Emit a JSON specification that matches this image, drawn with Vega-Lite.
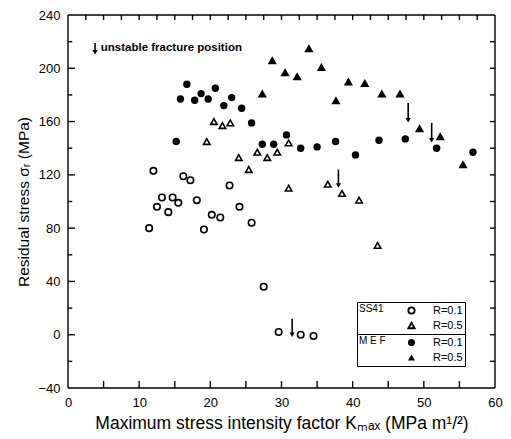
{
  "$schema": "https://vega.github.io/schema/vega-lite/v6.json",
  "width": 427,
  "height": 373,
  "autosize": {"type": "none"},
  "padding": {"left": 68, "top": 15, "right": 16, "bottom": 51},
  "background": "white",
  "config": {
    "view": {"stroke": null},
    "font": "Liberation Sans",
    "axis": {
      "grid": false,
      "domain": false,
      "ticks": false,
      "labelColor": "black",
      "titleColor": "black",
      "labelFont": "Liberation Sans",
      "titleFont": "Liberation Sans",
      "titleFontWeight": "normal",
      "labelFlush": false,
      "labelOverlap": false
    },
    "legend": {
      "labelFont": "Liberation Sans",
      "titleFont": "Liberation Sans",
      "labelColor": "black",
      "titleColor": "black"
    }
  },
  "datasets": {
    "segs": [
      {"x": 0, "x2": 60, "y": -40, "y2": -40},
      {"x": 0, "x2": 60, "y": 240, "y2": 240},
      {"x": 0, "x2": 0, "y": -40, "y2": 240},
      {"x": 60, "x2": 60, "y": -40, "y2": 240},
      {"x": 5, "x2": 5, "y": -40, "y2": -34.8},
      {"x": 10, "x2": 10, "y": -40, "y2": -34.8},
      {"x": 15, "x2": 15, "y": -40, "y2": -34.8},
      {"x": 20, "x2": 20, "y": -40, "y2": -34.8},
      {"x": 25, "x2": 25, "y": -40, "y2": -34.8},
      {"x": 30, "x2": 30, "y": -40, "y2": -34.8},
      {"x": 35, "x2": 35, "y": -40, "y2": -34.8},
      {"x": 40, "x2": 40, "y": -40, "y2": -34.8},
      {"x": 45, "x2": 45, "y": -40, "y2": -34.8},
      {"x": 50, "x2": 50, "y": -40, "y2": -34.8},
      {"x": 55, "x2": 55, "y": -40, "y2": -34.8},
      {"x": 2.5, "x2": 2.5, "y": 240, "y2": 236.3},
      {"x": 5, "x2": 5, "y": 240, "y2": 236.3},
      {"x": 7.5, "x2": 7.5, "y": 240, "y2": 236.3},
      {"x": 10, "x2": 10, "y": 240, "y2": 236.3},
      {"x": 12.5, "x2": 12.5, "y": 240, "y2": 236.3},
      {"x": 15, "x2": 15, "y": 240, "y2": 236.3},
      {"x": 17.5, "x2": 17.5, "y": 240, "y2": 236.3},
      {"x": 20, "x2": 20, "y": 240, "y2": 236.3},
      {"x": 22.5, "x2": 22.5, "y": 240, "y2": 236.3},
      {"x": 25, "x2": 25, "y": 240, "y2": 236.3},
      {"x": 27.5, "x2": 27.5, "y": 240, "y2": 236.3},
      {"x": 30, "x2": 30, "y": 240, "y2": 236.3},
      {"x": 32.5, "x2": 32.5, "y": 240, "y2": 236.3},
      {"x": 35, "x2": 35, "y": 240, "y2": 236.3},
      {"x": 37.5, "x2": 37.5, "y": 240, "y2": 236.3},
      {"x": 40, "x2": 40, "y": 240, "y2": 236.3},
      {"x": 42.5, "x2": 42.5, "y": 240, "y2": 236.3},
      {"x": 45, "x2": 45, "y": 240, "y2": 236.3},
      {"x": 47.5, "x2": 47.5, "y": 240, "y2": 236.3},
      {"x": 50, "x2": 50, "y": 240, "y2": 236.3},
      {"x": 52.5, "x2": 52.5, "y": 240, "y2": 236.3},
      {"x": 55, "x2": 55, "y": 240, "y2": 236.3},
      {"x": 57.5, "x2": 57.5, "y": 240, "y2": 236.3},
      {"x": 0, "x2": 0.98, "y": 0, "y2": 0},
      {"x": 0, "x2": 0.98, "y": 40, "y2": 40},
      {"x": 0, "x2": 0.98, "y": 80, "y2": 80},
      {"x": 0, "x2": 0.98, "y": 120, "y2": 120},
      {"x": 0, "x2": 0.98, "y": 160, "y2": 160},
      {"x": 0, "x2": 0.98, "y": 200, "y2": 200},
      {"x": 0, "x2": 0.6, "y": -20, "y2": -20},
      {"x": 0, "x2": 0.6, "y": 20, "y2": 20},
      {"x": 0, "x2": 0.6, "y": 60, "y2": 60},
      {"x": 0, "x2": 0.6, "y": 100, "y2": 100},
      {"x": 0, "x2": 0.6, "y": 140, "y2": 140},
      {"x": 0, "x2": 0.6, "y": 180, "y2": 180},
      {"x": 0, "x2": 0.6, "y": 220, "y2": 220},
      {"x": 59.3, "x2": 60, "y": -20, "y2": -20},
      {"x": 59.3, "x2": 60, "y": 0, "y2": 0},
      {"x": 59.3, "x2": 60, "y": 20, "y2": 20},
      {"x": 59.3, "x2": 60, "y": 40, "y2": 40},
      {"x": 59.3, "x2": 60, "y": 60, "y2": 60},
      {"x": 59.3, "x2": 60, "y": 80, "y2": 80},
      {"x": 59.3, "x2": 60, "y": 100, "y2": 100},
      {"x": 59.3, "x2": 60, "y": 120, "y2": 120},
      {"x": 59.3, "x2": 60, "y": 140, "y2": 140},
      {"x": 59.3, "x2": 60, "y": 160, "y2": 160},
      {"x": 59.3, "x2": 60, "y": 180, "y2": 180},
      {"x": 59.3, "x2": 60, "y": 200, "y2": 200},
      {"x": 59.3, "x2": 60, "y": 220, "y2": 220}
    ],
    "points": [
      {"m": "SS41", "R": "R=0.1", "K": 11.4, "s": 80},
      {"m": "SS41", "R": "R=0.1", "K": 12.0, "s": 123},
      {"m": "SS41", "R": "R=0.1", "K": 12.5, "s": 96},
      {"m": "SS41", "R": "R=0.1", "K": 13.2, "s": 103},
      {"m": "SS41", "R": "R=0.1", "K": 14.1, "s": 92},
      {"m": "SS41", "R": "R=0.1", "K": 14.7, "s": 103},
      {"m": "SS41", "R": "R=0.1", "K": 15.5, "s": 99},
      {"m": "SS41", "R": "R=0.1", "K": 16.2, "s": 119},
      {"m": "SS41", "R": "R=0.1", "K": 17.2, "s": 116},
      {"m": "SS41", "R": "R=0.1", "K": 18.1, "s": 101},
      {"m": "SS41", "R": "R=0.1", "K": 19.1, "s": 79},
      {"m": "SS41", "R": "R=0.1", "K": 20.2, "s": 90},
      {"m": "SS41", "R": "R=0.1", "K": 21.4, "s": 88},
      {"m": "SS41", "R": "R=0.1", "K": 22.7, "s": 112},
      {"m": "SS41", "R": "R=0.1", "K": 24.1, "s": 96},
      {"m": "SS41", "R": "R=0.1", "K": 25.8, "s": 84},
      {"m": "SS41", "R": "R=0.1", "K": 27.5, "s": 36},
      {"m": "SS41", "R": "R=0.1", "K": 29.6, "s": 2},
      {"m": "SS41", "R": "R=0.1", "K": 32.7, "s": 0},
      {"m": "SS41", "R": "R=0.1", "K": 34.5, "s": -1},
      {"m": "SS41", "R": "R=0.5", "K": 19.5, "s": 145},
      {"m": "SS41", "R": "R=0.5", "K": 20.5, "s": 160},
      {"m": "SS41", "R": "R=0.5", "K": 21.7, "s": 157},
      {"m": "SS41", "R": "R=0.5", "K": 22.8, "s": 159},
      {"m": "SS41", "R": "R=0.5", "K": 24.0, "s": 133},
      {"m": "SS41", "R": "R=0.5", "K": 25.4, "s": 124},
      {"m": "SS41", "R": "R=0.5", "K": 26.6, "s": 137},
      {"m": "SS41", "R": "R=0.5", "K": 28.0, "s": 133},
      {"m": "SS41", "R": "R=0.5", "K": 29.4, "s": 137},
      {"m": "SS41", "R": "R=0.5", "K": 31.0, "s": 144},
      {"m": "SS41", "R": "R=0.5", "K": 31.0, "s": 110},
      {"m": "SS41", "R": "R=0.5", "K": 36.5, "s": 113},
      {"m": "SS41", "R": "R=0.5", "K": 38.5, "s": 106},
      {"m": "SS41", "R": "R=0.5", "K": 40.9, "s": 101},
      {"m": "SS41", "R": "R=0.5", "K": 43.5, "s": 67},
      {"m": "MEF", "R": "R=0.1", "K": 15.2, "s": 145},
      {"m": "MEF", "R": "R=0.1", "K": 15.8, "s": 177},
      {"m": "MEF", "R": "R=0.1", "K": 16.7, "s": 188},
      {"m": "MEF", "R": "R=0.1", "K": 17.8, "s": 176},
      {"m": "MEF", "R": "R=0.1", "K": 18.7, "s": 181},
      {"m": "MEF", "R": "R=0.1", "K": 19.7, "s": 177},
      {"m": "MEF", "R": "R=0.1", "K": 20.7, "s": 185},
      {"m": "MEF", "R": "R=0.1", "K": 21.9, "s": 172},
      {"m": "MEF", "R": "R=0.1", "K": 23.0, "s": 178},
      {"m": "MEF", "R": "R=0.1", "K": 24.4, "s": 170},
      {"m": "MEF", "R": "R=0.1", "K": 25.8, "s": 159},
      {"m": "MEF", "R": "R=0.1", "K": 27.3, "s": 143},
      {"m": "MEF", "R": "R=0.1", "K": 28.9, "s": 143},
      {"m": "MEF", "R": "R=0.1", "K": 30.7, "s": 150},
      {"m": "MEF", "R": "R=0.1", "K": 32.7, "s": 140},
      {"m": "MEF", "R": "R=0.1", "K": 35.0, "s": 141},
      {"m": "MEF", "R": "R=0.1", "K": 37.6, "s": 145},
      {"m": "MEF", "R": "R=0.1", "K": 40.4, "s": 135},
      {"m": "MEF", "R": "R=0.1", "K": 43.7, "s": 146},
      {"m": "MEF", "R": "R=0.1", "K": 47.4, "s": 147},
      {"m": "MEF", "R": "R=0.1", "K": 51.8, "s": 140},
      {"m": "MEF", "R": "R=0.1", "K": 56.9, "s": 137},
      {"m": "MEF", "R": "R=0.5", "K": 27.3, "s": 181},
      {"m": "MEF", "R": "R=0.5", "K": 28.7, "s": 206},
      {"m": "MEF", "R": "R=0.5", "K": 30.5, "s": 197},
      {"m": "MEF", "R": "R=0.5", "K": 32.2, "s": 194},
      {"m": "MEF", "R": "R=0.5", "K": 33.85, "s": 215},
      {"m": "MEF", "R": "R=0.5", "K": 35.6, "s": 201},
      {"m": "MEF", "R": "R=0.5", "K": 37.65, "s": 176},
      {"m": "MEF", "R": "R=0.5", "K": 39.4, "s": 190},
      {"m": "MEF", "R": "R=0.5", "K": 41.7, "s": 189},
      {"m": "MEF", "R": "R=0.5", "K": 44.1, "s": 181},
      {"m": "MEF", "R": "R=0.5", "K": 46.65, "s": 181},
      {"m": "MEF", "R": "R=0.5", "K": 49.4, "s": 155},
      {"m": "MEF", "R": "R=0.5", "K": 52.3, "s": 149},
      {"m": "MEF", "R": "R=0.5", "K": 55.5, "s": 128}
    ],
    "arrows": [
      {"K": 3.8, "top": 219, "bottom": 212},
      {"K": 31.5, "top": 12, "bottom": 0},
      {"K": 38.0, "top": 124, "bottom": 112},
      {"K": 47.8, "top": 174, "bottom": 161},
      {"K": 51.1, "top": 159, "bottom": 146}
    ],
    "notes": [
      {"K": 4.6, "s": 215, "label": "unstable fracture position"}
    ]
  },
  "layer": [
    {
      "data": {"name": "points"},
      "transform": [{"filter": "datum.m === 'SS41'"}],
      "mark": {"type": "point", "filled": false, "color": "black", "strokeWidth": 1.6, "opacity": 1},
      "encoding": {
        "x": {"field": "K", "type": "quantitative", "scale": {"domain": [0, 60], "nice": false, "zero": false},
          "axis": {
            "orient": "bottom",
            "values": [0, 5, 10, 15, 20, 25, 30, 35, 40, 45, 50, 55, 60],
            "labelPadding": 8,
            "labelFontSize": 13,
            "title": "Maximum stress intensity factor Kₘₐₓ (MPa m¹/²)",
            "titleFontSize": 17.5,
            "titlePadding": 5
          }
        },
        "y": {"field": "s", "type": "quantitative", "scale": {"domain": [-40, 240], "nice": false, "zero": false},
          "axis": {
            "orient": "left",
            "values": [-40, 0, 40, 80, 120, 160, 200, 240],
            "labelPadding": 8,
            "labelFontSize": 13,
            "title": "Residual stress σᵣ (MPa)",
            "titleFontSize": 15.5,
            "titlePadding": 6
          }
        },
        "shape": {
          "field": "R", "type": "nominal",
          "scale": {"domain": ["R=0.1", "R=0.5"], "range": ["circle", "triangle-up"]},
          "legend": {
            "title": "SS41",
            "orient": "none",
            "legendX": 289,
            "legendY": 287,
            "titleOrient": "left",
            "titleAngle": 0,
            "titleBaseline": "top",
            "titleAnchor": "start",
            "titleFontSize": 10,
            "titleFontWeight": "normal",
            "titlePadding": 22,
            "labelFontSize": 11,
            "labelOffset": 16,
            "symbolSize": 40,
            "symbolStrokeWidth": 1.8,
            "symbolStrokeColor": "black",
            "clipHeight": 13,
            "rowPadding": 2,
            "padding": 2,
            "strokeColor": "black"
          }
        },
        "size": {"value": 42}
      }
    },
    {
      "data": {"name": "points"},
      "transform": [{"filter": "datum.m === 'MEF'"}],
      "mark": {"type": "point", "filled": true, "color": "black", "opacity": 1},
      "encoding": {
        "x": {"field": "K", "type": "quantitative", "scale": {"domain": [0, 60], "nice": false, "zero": false}},
        "y": {"field": "s", "type": "quantitative", "scale": {"domain": [-40, 240], "nice": false, "zero": false}},
        "shape": {
          "field": "R", "type": "nominal",
          "scale": {"domain": ["R=0.1", "R=0.5"], "range": ["circle", "triangle-up"]},
          "legend": {
            "title": "M E F",
            "orient": "none",
            "legendX": 289,
            "legendY": 319,
            "titleOrient": "left",
            "titleAngle": 0,
            "titleBaseline": "top",
            "titleAnchor": "start",
            "titleFontSize": 10,
            "titleFontWeight": "normal",
            "titlePadding": 20,
            "labelFontSize": 11,
            "labelOffset": 16,
            "symbolSize": 50,
            "symbolFillColor": "black",
            "symbolStrokeColor": "black",
            "clipHeight": 13,
            "rowPadding": 2,
            "padding": 2,
            "strokeColor": "black"
          }
        },
        "size": {"condition": {"test": "datum.R === 'R=0.5'", "value": 85}, "value": 55}
      }
    },
    {
      "data": {"name": "arrows"},
      "mark": {"type": "rule", "color": "black", "strokeWidth": 1.6},
      "encoding": {
        "x": {"field": "K", "type": "quantitative", "scale": {"domain": [0, 60], "nice": false, "zero": false}},
        "y": {"field": "top", "type": "quantitative", "scale": {"domain": [-40, 240], "nice": false, "zero": false}},
        "y2": {"field": "bottom"}
      }
    },
    {
      "data": {"name": "segs"},
      "mark": {"type": "rule", "color": "black", "strokeWidth": 1.4},
      "encoding": {
        "x": {"field": "x", "type": "quantitative", "scale": {"domain": [0, 60], "nice": false, "zero": false}},
        "x2": {"field": "x2"},
        "y": {"field": "y", "type": "quantitative", "scale": {"domain": [-40, 240], "nice": false, "zero": false}},
        "y2": {"field": "y2"}
      }
    },
    {
      "data": {"name": "arrows"},
      "mark": {"type": "point", "shape": "triangle-down", "filled": true, "color": "black", "size": 28, "opacity": 1},
      "encoding": {
        "x": {"field": "K", "type": "quantitative", "scale": {"domain": [0, 60], "nice": false, "zero": false}},
        "y": {"field": "bottom", "type": "quantitative", "scale": {"domain": [-40, 240], "nice": false, "zero": false}}
      }
    },
    {
      "data": {"name": "notes"},
      "mark": {"type": "text", "align": "left", "baseline": "middle", "fontSize": 11.5, "fontWeight": "bold", "color": "black", "font": "Liberation Sans"},
      "encoding": {
        "x": {"field": "K", "type": "quantitative", "scale": {"domain": [0, 60], "nice": false, "zero": false}},
        "y": {"field": "s", "type": "quantitative", "scale": {"domain": [-40, 240], "nice": false, "zero": false}},
        "text": {"field": "label"}
      }
    }
  ],
  "resolve": {
    "scale": {"shape": "independent"},
    "legend": {"shape": "independent"}
  }
}
